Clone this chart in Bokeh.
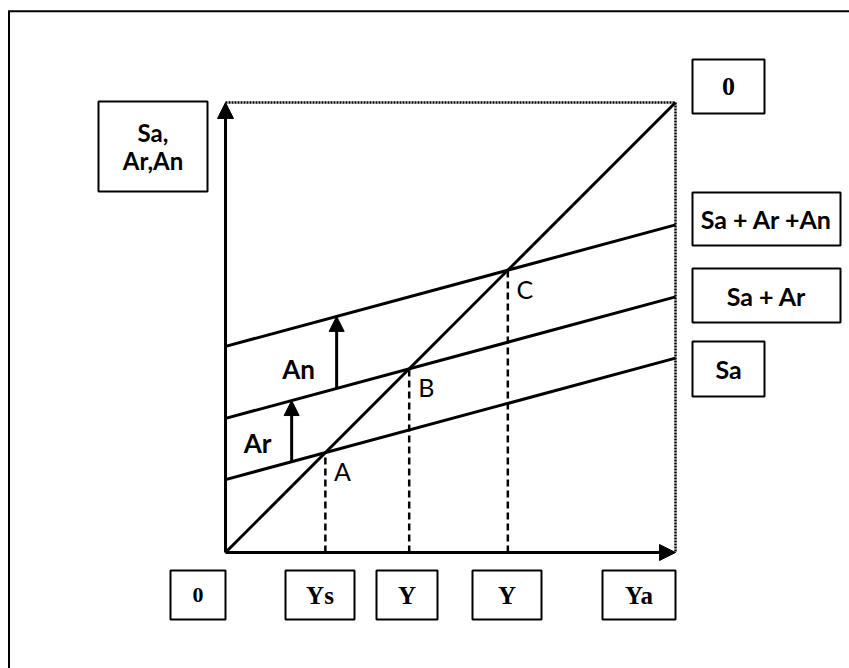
from bokeh.plotting import figure
from bokeh.models import Range1d, Arrow, NormalHead
from bokeh.embed import file_html
from bokeh.resources import INLINE
from bokeh.core.properties import value

# ---------------- data ----------------
y_top = 10.0                      # top of vertical axis
ya = 10.0                         # Ya : end of horizontal axis
slope = 0.27                      # common slope of the three lines
intercepts = [1.62, 2.98, 4.58]   # Sa, Sa + Ar, Sa + Ar + An
point_names = ["A", "B", "C"]
shift_x = [1.47, 2.47]            # where the Ar / An shift arrows are drawn
shift_names = ["Ar", "An"]
tick_labels = ["0", "Ys", "Y", "Y", "Ya"]
right_labels = ["0", "Sa + Ar +An", "Sa + Ar", "Sa"]
y_label_lines = ["Sa,", "Ar,An"]

# ---------------- layout helpers (page pixels -> data units) ----------------
W, H = 849, 668
OX, OY, S = 225.0, 552.0, 45.0


def dx(px):
    return (px - OX) / S


def dy(py):
    return (OY - py) / S


p = figure(width=W, height=H, x_range=Range1d(dx(0), dx(W)),
           y_range=Range1d(dy(H), dy(0)), output_backend="svg",
           toolbar_location=None, x_axis_location=None, y_axis_location=None,
           min_border=0)
p.grid.visible = False
p.outline_line_color = None
p.background_fill_color = "white"
p.border_fill_color = "white"

# outer frame (only top and left edges are visible in the picture)
p.segment(x0=[dx(8.5), dx(7.5)], y0=[dy(H), dy(10.7)],
          x1=[dx(8.5), dx(W)], y1=[dy(10.7), dy(10.7)],
          line_color="black", line_width=2)

# dotted box top / right
p.line([0, ya, ya], [y_top, y_top, 0], line_color="black", line_width=2.5,
       line_dash="2 1")

# 45-degree line
p.line([0, ya], [0, y_top], line_color="black", line_width=3)

# the three parallel lines
for b in intercepts:
    p.line([0, ya], [b, b + slope * ya], line_color="black", line_width=3)

# intersections & dashed drops
xi = [b / (1 - slope) for b in intercepts]
for x, name in zip(xi, point_names):
    p.line([x, x], [0, x], line_color="black", line_width=2.5, line_dash="7 4")
    p.text([x + 0.38], [x - 0.41], text=[name], text_align="center",
           text_baseline="middle", text_font=value("Lato"),
           text_font_size="25px", text_color="black")

# axes with arrow heads
p.add_layout(Arrow(end=NormalHead(size=16, fill_color="black", line_color="black"),
                   x_start=0, y_start=0, x_end=0, y_end=y_top,
                   line_width=3, line_color="black"))
p.add_layout(Arrow(end=NormalHead(size=16, fill_color="black", line_color="black"),
                   x_start=0, y_start=0, x_end=ya, y_end=0,
                   line_width=3, line_color="black"))

# shift arrows Ar, An
label_pos = [(257, 442), (298, 368)]
for i, (sx, nm) in enumerate(zip(shift_x, shift_names)):
    y0 = intercepts[i] + slope * sx
    y1 = intercepts[i + 1] + slope * sx
    p.add_layout(Arrow(end=NormalHead(size=15, fill_color="black", line_color="black"),
                       x_start=sx, y_start=y0, x_end=sx, y_end=y1,
                       line_width=3, line_color="black"))
    lx, ly = label_pos[i]
    p.text([dx(lx)], [dy(ly)], text=[nm], text_align="center",
           text_baseline="middle", text_font=value("Lato"),
           text_font_style="bold", text_font_size="26px", text_color="black")


def box(l, t, r, b, lines, font, style, size, line_gap=0):
    p.quad(left=[dx(l)], right=[dx(r)], top=[dy(t)], bottom=[dy(b)],
           fill_color="white", line_color="black", line_width=2)
    cx = (l + r) / 2
    cy = (t + b) / 2
    n = len(lines)
    for k, txt in enumerate(lines):
        yy = cy + (k - (n - 1) / 2) * line_gap
        p.text([dx(cx)], [dy(yy)], text=[txt], text_align="center",
               text_baseline="middle", text_font=value(font),
               text_font_style=style, text_font_size=size, text_color="black")


# y-axis label box
box(98, 101, 207, 191, y_label_lines, "Lato", "bold", "24px", line_gap=28)

# right label boxes
right_boxes = [(692, 59, 764, 113), (692, 192, 840, 245),
               (692, 268, 840, 322), (692, 341, 764, 396)]
for (l, t, r, b), txt in zip(right_boxes, right_labels):
    if txt == "0":
        box(l, t, r, b, [txt], "Liberation Serif", "bold", "26px")
    else:
        box(l, t, r, b, [txt], "Lato", "bold", "25px")

# bottom tick boxes
bottom_boxes = [(170, 225), (285, 354), (376, 437), (472, 541), (602, 675)]
for (l, r), txt in zip(bottom_boxes, tick_labels):
    size = "22px" if txt == "0" else "25px"
    box(l, 570, r, 619, [txt], "Liberation Serif", "bold", size)

open("out.html", "w").write(file_html(p, INLINE))
